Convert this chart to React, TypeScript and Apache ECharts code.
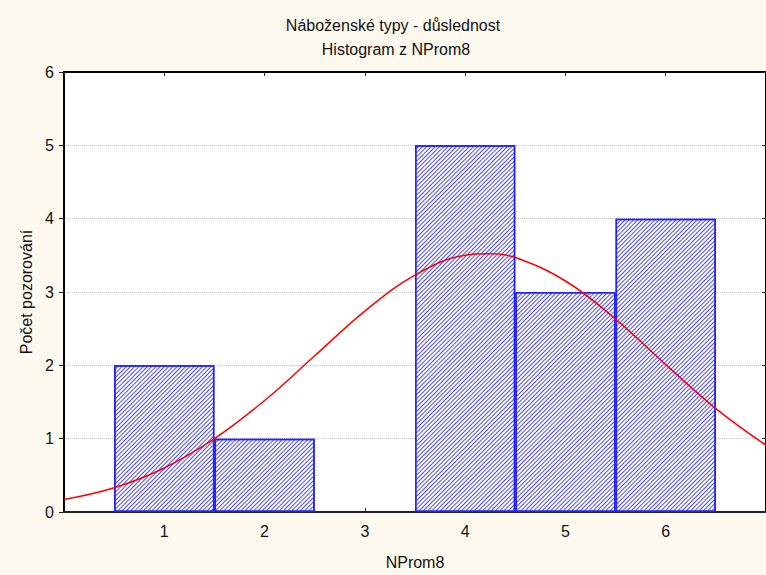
import React, { useEffect, useRef } from "react";
import * as echarts from "echarts";

const titleText = "Náboženské typy - důslednost";
const subtitleText = "Histogram z NProm8";
const xName = "NProm8";
const yName = "Počet pozorování";

const binCenters = [1, 2, 3, 4, 5, 6];
const binCounts = [2, 1, 0, 5, 3, 4];

const curveX = [0, 0.5, 1, 1.5, 2, 2.5, 3, 3.5, 4, 4.25, 4.5, 5, 5.5, 6, 6.5, 7];
const curveY = [0.17, 0.33, 0.6, 1.0, 1.52, 2.13, 2.74, 3.23, 3.5, 3.52, 3.47, 3.15, 2.63, 2.01, 1.41, 0.91];

const FONT = "Liberation Sans, Arial, Helvetica, sans-serif";

export default function App() {
  const ref = useRef<HTMLDivElement>(null);
  useEffect(() => {
    if (!ref.current) return;
    const chart = echarts.init(ref.current, null, { renderer: "svg" });
    const barData = binCenters.map((c, i) => [c, binCounts[i] === 0 ? "-" : binCounts[i]]);
    const lineData = curveX.map((x, i) => [x, curveY[i]]);
    const labelStyle = { color: "#111", fontSize: 16, fontFamily: FONT };
    chart.setOption({
      animation: false,
      backgroundColor: "#fef9ef",
      graphic: [
        {
          type: "text",
          x: 393,
          y: 25,
          style: { text: titleText, fill: "#111", font: `16px ${FONT}`, textAlign: "center", textVerticalAlign: "middle" },
        },
        {
          type: "text",
          x: 396,
          y: 49,
          style: { text: subtitleText, fill: "#111", font: `16px ${FONT}`, textAlign: "center", textVerticalAlign: "middle" },
        },
      ],
      grid: { left: 64, right: 0, top: 72, bottom: 63, show: true, backgroundColor: "#ffffff", borderWidth: 0 },
      xAxis: [
        {
          type: "value",
          min: 0,
          max: 7,
          interval: 1,
          position: "bottom",
          name: xName,
          nameLocation: "middle",
          nameGap: 42,
          nameTextStyle: labelStyle,
          axisLine: { show: true, onZero: false, lineStyle: { color: "#222", width: 2 } },
          axisTick: { show: true, inside: true, length: 4, lineStyle: { color: "#222", width: 1 } },
          axisLabel: { ...labelStyle, margin: 11, showMinLabel: false, showMaxLabel: false },
          splitLine: { show: false },
        },
        {
          type: "value",
          min: 0,
          max: 7,
          interval: 1,
          position: "top",
          axisLine: { show: true, onZero: false, lineStyle: { color: "#000", width: 2 } },
          axisTick: { show: true, inside: true, length: 4, lineStyle: { color: "#222", width: 1 } },
          axisLabel: { show: false },
          splitLine: { show: false },
        },
      ],
      yAxis: [
        {
          type: "value",
          min: 0,
          max: 6,
          interval: 1,
          position: "left",
          name: yName,
          nameLocation: "middle",
          nameGap: 29,
          nameTextStyle: labelStyle,
          axisLine: { show: true, onZero: false, lineStyle: { color: "#000", width: 2 } },
          axisTick: { show: true, inside: false, length: 5, lineStyle: { color: "#222", width: 1 } },
          axisLabel: { ...labelStyle, margin: 10 },
          splitLine: { show: true, lineStyle: { type: "dotted", color: "#c8c8c8", width: 1 } },
        },
        {
          type: "value",
          min: 0,
          max: 6,
          interval: 1,
          position: "right",
          axisLine: { show: true, onZero: false, lineStyle: { color: "#000", width: 2 } },
          axisTick: { show: true, inside: true, length: 4, lineStyle: { color: "#222", width: 1 } },
          axisLabel: { show: false },
          splitLine: { show: false },
        },
      ],
      series: [
        {
          type: "bar",
          xAxisIndex: 0,
          yAxisIndex: 0,
          data: barData,
          barWidth: "100%",
          itemStyle: {
            color: "#ffffff",
            borderColor: "#2222ff",
            borderWidth: 1.5,
            decal: {
              symbol: "rect",
              symbolSize: 1,
              color: "#4a4aff",
              backgroundColor: "#ffffff",
              dashArrayX: [1, 0],
              dashArrayY: [1, 1.3],
              rotation: -Math.PI / 4,
            },
          },
          z: 2,
        },
        {
          type: "line",
          xAxisIndex: 0,
          yAxisIndex: 0,
          data: lineData,
          smooth: 0.4,
          showSymbol: false,
          symbol: "none",
          lineStyle: { color: "#ff0000", width: 1.5 },
          clip: true,
          z: 3,
        },
      ],
    });
    return () => chart.dispose();
  }, []);
  return (
    <div
      ref={ref}
      style={{ position: "fixed", left: 0, top: 0, width: 766, height: 575 }}
    />
  );
}
